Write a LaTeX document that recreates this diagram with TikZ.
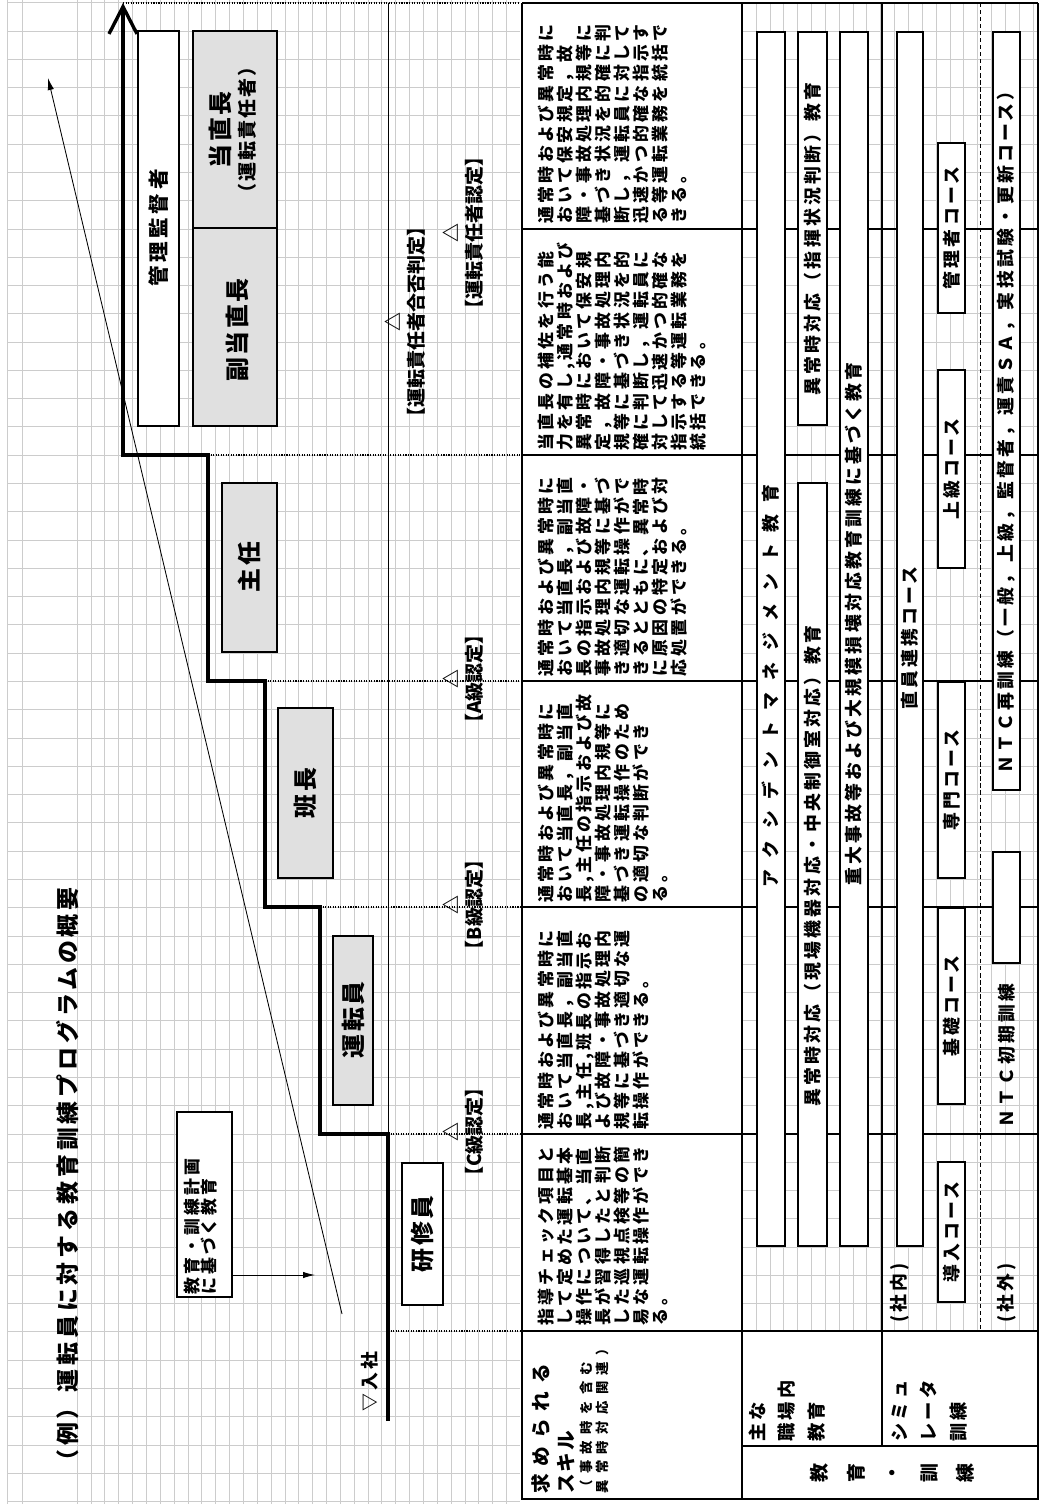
\documentclass[tikz,border=0pt]{standalone}
\usepackage{fontspec}
\setmainfont{Noto Sans CJK JP}
\newfontfamily\fcell{Noto Sans CJK JP}[LetterSpace=20]
\newfontfamily\fbar{Noto Sans CJK JP}[LetterSpace=18]
\newfontfamily\fwide{Noto Sans CJK JP}[LetterSpace=66]
\newfontfamily\frank{Noto Sans CJK JP}[LetterSpace=10]
\newfontfamily\fhead{Noto Sans CJK JP}[LetterSpace=40]
\newfontfamily\fsmall{Noto Sans CJK JP}[LetterSpace=48]
\newfontfamily\ftitle{Noto Sans CJK JP}[LetterSpace=17]
\usetikzlibrary{arrows.meta,positioning}
\definecolor{gridgray}{gray}{0.8}
\definecolor{rankgray}{gray}{0.88}
\tikzset{
  gridline/.style={gridgray,line width=0.3pt},
  stair/.style={line width=2.4pt},
  levelline/.style={densely dotted,line width=0.8pt},
  rankbox/.style={draw,line width=0.9pt,fill=rankgray},
  rankwhite/.style={draw,line width=0.9pt,fill=white},
  ranklabel/.style={rotate=90,inner sep=0pt,font=\frank\bfseries\fontsize{17}{20}\selectfont},
  certlabel/.style={rotate=90,inner sep=0pt,align=center,font=\bfseries\fontsize{13.5}{16.3}\selectfont},
  cell/.style={rotate=90,anchor=north west,align=left,inner sep=0pt,font=\fcell\bfseries\fontsize{12}{13.5}\selectfont},
  barbox/.style={draw,line width=0.8pt,fill=white},
  barlabel/.style={rotate=90,inner sep=0pt,font=\fbar\bfseries\fontsize{12.7}{15}\selectfont},
  headlabel/.style={rotate=90,anchor=west,inner sep=0pt,font=\fhead\bfseries\fontsize{14}{17}\selectfont},
  headsmall/.style={rotate=90,anchor=west,inner sep=0pt,font=\fsmall\bfseries\fontsize{9.5}{11}\selectfont},
  tableline/.style={line width=0.9pt},
  tablethick/.style={line width=2pt},
}

\begin{document}
\begin{tikzpicture}[x=0.025cm,y=-0.025cm]
  \useasboundingbox (0,0) rectangle (1040,1504);
  % graph paper
  \foreach \k in {0,...,53}
    \draw[gridline] (7,{2.5+\k*28.28}) -- (520,{2.5+\k*28.28});
  \foreach \k in {0,...,47}
    \draw[gridline] (742,{2.5+\k*28.28}) -- (1038,{2.5+\k*28.28});
  \foreach \k in {0,...,31}
    \draw[gridline] ({77+\k*13.85},0) -- ({77+\k*13.85},1504);
  \foreach \k in {1,...,21}
    \draw[gridline] ({742+\k*13.85},3) -- ({742+\k*13.85},1331);
  \draw[gridline] (7,0) -- (7,1504) (22,0) -- (22,1504);

  % title
  \node[rotate=90,inner sep=0pt,font=\ftitle\bfseries\fontsize{16.3}{19}\selectfont] (title) at (68,1180) {（例）運転員に対する教育訓練プログラムの概要};

  % career line
  \draw[line width=0.6pt] (388,3) -- (388,1134);
  \draw[stair,-{Straight Barb[length=0.68cm,width=0.7cm,line width=2.4pt]}] (388,1421) -- (388,1134) -- (320,1134) -- (320,907) -- (265,907)
    -- (265,681) -- (208,681) -- (208,455) -- (123,455) -- (123,3);
  \draw[levelline] (123,3) -- (520,3);
  \draw[levelline] (208,455) -- (520,455);
  \draw[levelline] (265,681) -- (520,681);
  \draw[levelline] (320,907) -- (520,907);
  \draw[levelline] (388,1134) -- (520,1134);
  \draw[levelline] (388,1331) -- (520,1331);

  % rising skill line
  \coordinate (skillstart) at (342,1314);
  \coordinate (skillend) at (48,78);
  \draw[line width=0.6pt,-{Latex[length=0.3cm,width=0.16cm]}] (skillstart) -- (skillend);

  % ranks
  \draw[rankwhite] (138,31) rectangle (179,426);
  \node[ranklabel,font=\fbar\bfseries\fontsize{14.6}{17}\selectfont] (kanri) at (158.5,228) {管理監督者};
  \draw[rankbox] (193,31) rectangle (277,228);
  \node[ranklabel,align=center] (toucho) at (233,130) {当直長\\[-2pt]{\fontsize{13.5}{16}\selectfont（運転責任者）}};
  \draw[rankbox] (193,228) rectangle (277,426);
  \node[ranklabel] (fukutoucho) at (237,330) {副当直長};
  \draw[rankbox] (222,483) rectangle (277,652);
  \node[ranklabel] (shunin) at (249.5,567) {主任};
  \draw[rankbox] (278,708) rectangle (333,878);
  \node[ranklabel] (hancho) at (305.5,793) {班長};
  \draw[rankbox] (333,936) rectangle (373,1105);
  \node[ranklabel] (untenin) at (353,1020) {運転員};
  \draw[rankwhite] (402,1163) rectangle (443,1305);
  \node[ranklabel] (kenshuin) at (422.5,1234) {研修員};

  % certifications
  \node[certlabel] (gouhi) at (405,322) {△\\【運転責任者合否判定】};
  \node[certlabel] (sekinin) at (463,233) {△\\【運転責任者認定】};
  \node[certlabel] (alevel) at (463,679) {△\\【A級認定】};
  \node[certlabel] (blevel) at (463,905) {△\\【B級認定】};
  \node[certlabel] (clevel) at (463,1132) {△\\【C級認定】};
  \node[rotate=90,anchor=west,inner sep=0pt,font=\fbar\bfseries\fontsize{12.7}{15}\selectfont] (nyusha) at (370,1412) {▽入社};

  % plan box
  \draw[line width=0.9pt,fill=white] (177,1112) rectangle (232,1297);
  \node[rotate=90,anchor=north west,align=left,inner sep=0pt,font=\fbar\bfseries\fontsize{12}{12}\selectfont] (plan) at (184,1295) {教育・訓練計画\\に基づく教育};
  \coordinate (planarrow) at (315,1275);
  \draw[line width=0.6pt,-{Latex[length=0.3cm,width=0.16cm]}] (232,1275) -- (planarrow);

  % table frame
  \fill[white] (522,3) rectangle (742,1499);
  \fill[white] (742,1331) rectangle (1038,1499);
  \foreach \y in {229,455,681,907,1134}
    \draw[tableline] (522,\y) -- (1038,\y);
  \draw[tableline] (522,3) -- (1038,3);
  \draw[tableline] (522,1331) -- (1038,1331);
  \draw[tableline] (742,1446) -- (1038,1446);
  \draw[tableline] (742,3) -- (742,1499);
  \draw[tableline] (882,3) -- (882,1446);
  \draw[line width=0.7pt,densely dashed] (980,3) -- (980,1331);
  \draw[tablethick] (522,3) -- (522,1499) -- (1038,1499) -- (1038,3);

  % skills
  \node[cell] (skill1) at (538,224) {通常時および異常時に\\おいて保安規定，故\\障・事故処理内規等に\\基づき状況を的確に判\\断し，運転員に対して\\迅速かつ的確な指示す\\る等運転業務を統括で\\きる。};
  \node[cell] (skill2) at (538,451) {当直長の補佐を行う能\\力を有し,通常時および\\異常時において保安規\\定，故障・事故処理内\\規等に基づき状況を的\\確に判断し，運転員に\\対して迅速かつ的確な\\指示する等運転業務を\\統括できる。};
  \node[cell] (skill3) at (538,677) {通常時および異常時に\\おいて当直長，副当直\\長の指示および故障・\\事故処理内規等に基づ\\き適切な運転操作がで\\きるとともに、異常時\\に原因の特定および対\\応処置ができる。};
  \node[cell] (skill4) at (538,903) {通常時および異常時に\\おいて当直長，副当直\\長,主任の指示および故\\障・事故処理内規等に\\基づき運転操作のため\\の適切な判断ができ\\る。};
  \node[cell] (skill5) at (538,1130) {通常時および異常時に\\おいて当直長，副当直\\長,主任,班長の指示お\\よび故障・事故処理内\\規等に基づき適切な運\\転操作ができる。};
  \node[cell] (skill6) at (538,1326) {指導チェック項目と\\して定めた運転基本\\操作について、当直\\長が習得したと判断\\した巡視点検等の簡\\易な運転操作ができ\\る。};

  % on-the-job education
  \draw[barbox] (757,32) rectangle (785,1246);
  \node[barlabel,font=\fwide\bfseries\fontsize{12.7}{15}\selectfont] (accident) at (771,686) {アクシデントマネジメント教育};
  \draw[barbox] (798,32) rectangle (827,425);
  \node[barlabel] (shiki) at (812.5,239) {異常時対応（指揮状況判断）教育};
  \draw[barbox] (798,483) rectangle (827,1246);
  \node[barlabel] (genba) at (812.5,866) {異常時対応（現場機器対応・中央制御室対応）教育};
  \draw[barbox] (840,32) rectangle (868,1246);
  \node[barlabel] (severe) at (854,624) {重大事故等および大規模損壊対応教育訓練に基づく教育};

  % simulator training, in house
  \draw[barbox] (897,32) rectangle (923,1246);
  \node[barlabel] (renkei) at (910,638) {直員連携コース};
  \draw[barbox] (938,143) rectangle (965,313);
  \node[barlabel] (kanrisha) at (951.5,228) {管理者コース};
  \draw[barbox] (938,370) rectangle (965,568);
  \node[barlabel] (joukyu) at (951.5,469) {上級コース};
  \draw[barbox] (938,682) rectangle (965,878);
  \node[barlabel] (senmon) at (951.5,780) {専門コース};
  \draw[barbox] (938,908) rectangle (965,1104);
  \node[barlabel] (kiso) at (951.5,1006) {基礎コース};
  \draw[barbox] (938,1162) rectangle (965,1302);
  \node[barlabel] (dounyu) at (951.5,1232) {導入コース};
  \node[barlabel,anchor=west] (shanai) at (900,1323) {(社内)};

  % simulator training, outside
  \draw[barbox] (993,32) rectangle (1020,790);
  \node[barlabel] (ntcre) at (1006.5,428) {ＮＴＣ再訓練（一般，上級，監督者，運責ＳＡ，実技試験・更新コース）};
  \draw[barbox] (993,852) rectangle (1020,963);
  \node[barlabel,anchor=west] (ntcinit) at (1006.5,1128) {ＮＴＣ初期訓練};
  \node[barlabel,anchor=west] (shagai) at (1006.5,1323) {(社外)};

  % header row
  \node[headlabel] (motomerare) at (541,1494) {求められる};
  \node[headlabel,font=\frank\bfseries\fontsize{14}{17}\selectfont] (skill) at (566,1494) {スキル};
  \node[headsmall] (jiko) at (586,1494) {（事故時を含む};
  \node[headsmall] (ijou) at (602,1494) {異常時対応関連）};
  \node[rotate=90,anchor=north west,align=left,inner sep=0pt,font=\fbar\bfseries\fontsize{13}{21}\selectfont] (shokuba) at (748,1442) {主な\\職場内\\教育};
  \node[rotate=90,anchor=north west,align=left,inner sep=0pt,font=\fbar\bfseries\fontsize{13}{21}\selectfont] (simulator) at (891,1442) {シミュ\\レータ\\訓練};
  \node[rotate=90,anchor=north,align=center,inner sep=0pt,font=\bfseries\fontsize{13.5}{26}\selectfont] (kyouiku) at (810,1473) {教\\育\\・\\訓\\練};
\end{tikzpicture}
\end{document}
